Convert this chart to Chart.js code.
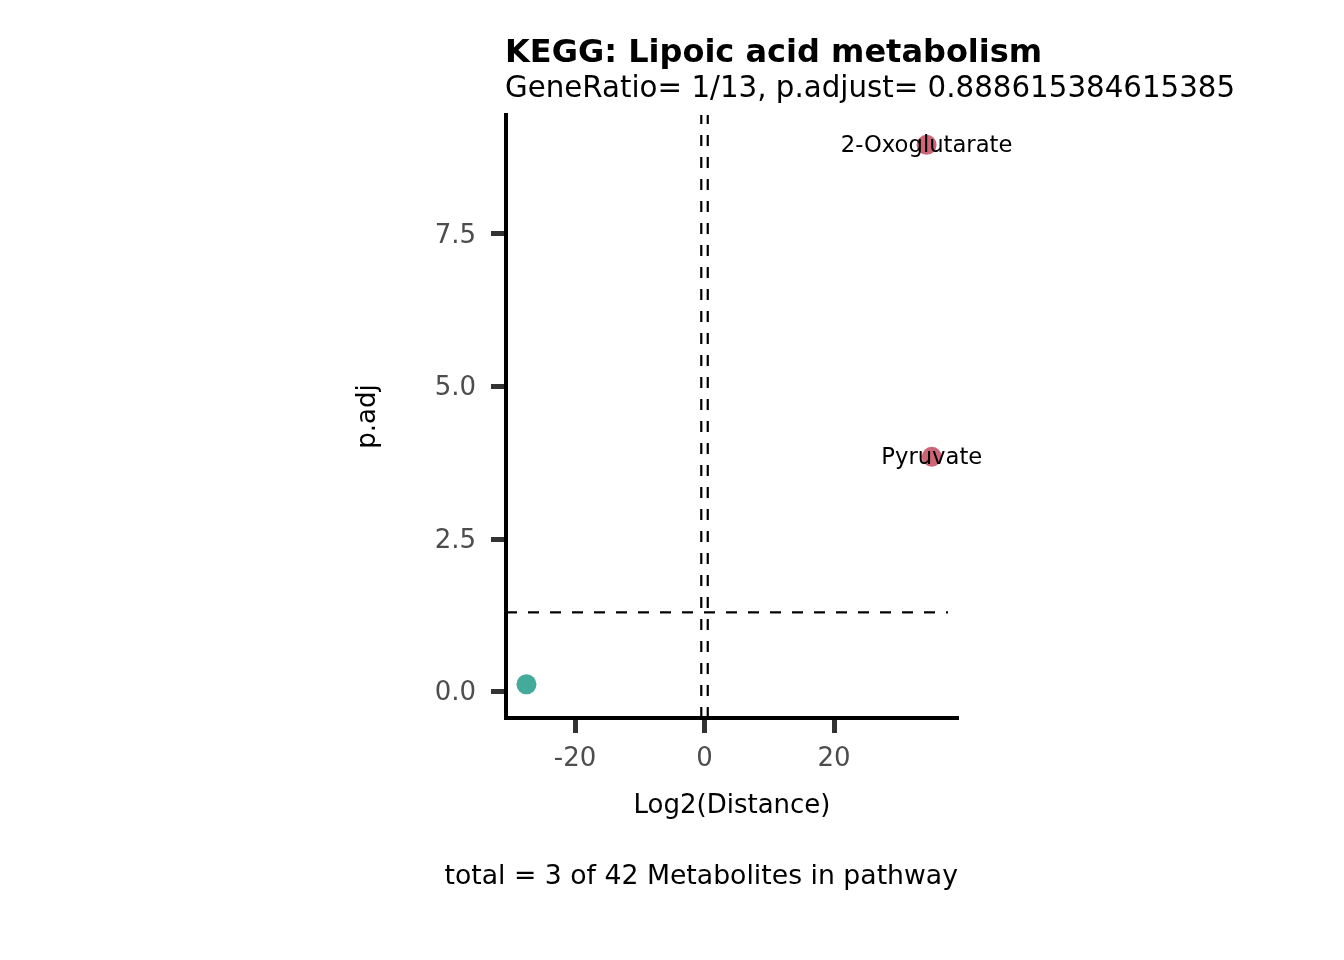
<!DOCTYPE html>
<html>
<head>
<meta charset="utf-8">
<script src="https://cdn.jsdelivr.net/npm/chart.js@4.4.1/dist/chart.umd.min.js"></script>
<style>
  html, body { margin: 0; padding: 0; background: #ffffff; }
  #wrap { width: 1344px; height: 960px; }
</style>
</head>
<body>
<div id="wrap"><canvas id="c" width="1344" height="960"></canvas></div>
<script>
// ---- data ----
const titleText = 'KEGG: Lipoic acid metabolism';
const subtitleText = 'GeneRatio= 1/13, p.adjust= 0.888615384615385';
const captionText = 'total = 3 of 42 Metabolites in pathway';
const xAxisTitle = 'Log2(Distance)';
const yAxisTitle = 'p.adj';

const upNames = ['2-Oxoglutarate', 'Pyruvate'];
const upX = [34.3, 35.1];
const upY = [8.96, 3.85];

const nsX = [-27.5];
const nsY = [0.12];

const xTicks = [-20, 0, 20];
const yTicks = [0, 2.5, 5, 7.5];

const xThresholds = [-0.5, 0.5];
const yThreshold = 1.3;
const hlineXEnd = 37.6;

const xLimits = [-30.66, 39.15];
const yLimits = [-0.431, 9.449];

// ---- build datasets ----
const FONT = "'DejaVu Sans', 'Liberation Sans', sans-serif";
Chart.defaults.font.family = FONT;

const dash = [11, 11];
const datasets = [];
xThresholds.forEach(v => {
  datasets.push({
    type: 'line',
    data: [{x: v, y: yLimits[0]}, {x: v, y: yLimits[1]}],
    borderColor: '#000000', borderWidth: 2.2, borderDash: dash,
    pointRadius: 0, fill: false, tension: 0, order: 3, clip: false
  });
});
datasets.push({
  type: 'line',
  data: [{x: xLimits[0], y: yThreshold}, {x: hlineXEnd, y: yThreshold}],
  borderColor: '#000000', borderWidth: 2.2, borderDash: dash,
  pointRadius: 0, fill: false, tension: 0, order: 3, clip: false
});
datasets.push({
  type: 'scatter',
  data: nsX.map((x, i) => ({x: x, y: nsY[i]})),
  backgroundColor: '#44AA99', borderColor: '#44AA99', borderWidth: 0,
  pointRadius: 10, pointHoverRadius: 10, order: 1
});
datasets.push({
  type: 'scatter',
  data: upX.map((x, i) => ({x: x, y: upY[i], name: upNames[i]})),
  backgroundColor: '#CC6677', borderColor: '#CC6677', borderWidth: 0,
  pointRadius: 10, pointHoverRadius: 10, order: 1
});

// ---- plugins ----
const textPlugin = {
  id: 'texts',
  beforeDraw(chart) {
    const ctx = chart.ctx;
    ctx.save();
    ctx.fillStyle = '#ffffff';
    ctx.fillRect(0, 0, chart.width, chart.height);
    ctx.restore();
  },
  afterDraw(chart) {
    const ctx = chart.ctx;
    const area = chart.chartArea;
    ctx.save();
    ctx.fillStyle = '#000000';
    ctx.textBaseline = 'alphabetic';
    ctx.textAlign = 'left';
    ctx.font = 'bold 32px ' + FONT;
    ctx.fillText(titleText, area.left - 1, 62);
    ctx.font = '29.3px ' + FONT;
    ctx.fillText(subtitleText, area.left - 1, 97);
    ctx.textAlign = 'right';
    ctx.font = '26.7px ' + FONT;
    ctx.fillText(captionText, area.right, 884);
    ctx.restore();
  },
  afterDatasetsDraw(chart) {
    const ctx = chart.ctx;
    const xs = chart.scales.x, ys = chart.scales.y;
    ctx.save();
    ctx.fillStyle = '#000000';
    ctx.font = '22.7px ' + FONT;
    ctx.textAlign = 'center';
    ctx.textBaseline = 'middle';
    upNames.forEach((n, i) => {
      ctx.fillText(n, xs.getPixelForValue(upX[i]), ys.getPixelForValue(upY[i]) + 1.5);
    });
    ctx.restore();
  }
};

new Chart(document.getElementById('c'), {
  data: { datasets: datasets },
  options: {
    responsive: false,
    animation: false,
    devicePixelRatio: 1,
    layout: { padding: { left: 306, top: 115, right: 386, bottom: 0 } },
    plugins: { legend: { display: false }, tooltip: { enabled: false }, title: { display: false } },
    scales: {
      x: {
        type: 'linear', position: 'bottom',
        min: xLimits[0], max: xLimits[1],
        afterFit(scale) { scale.height = 242; },
        afterBuildTicks(scale) { scale.ticks = xTicks.map(v => ({value: v})); },
        border: { display: true, color: '#000000', width: 4 },
        grid: { drawOnChartArea: false, drawTicks: true, tickLength: 15, tickWidth: 5, tickColor: '#333333' },
        ticks: { color: '#4D4D4D', font: { size: 26 }, padding: 11, callback: v => String(v) },
        title: { display: true, text: xAxisTitle, color: '#000000', font: { size: 26 }, padding: { top: 0, bottom: 138.4 } }
      },
      y: {
        type: 'linear', position: 'left',
        min: yLimits[0], max: yLimits[1],
        afterFit(scale) { scale.width = 200; },
        afterBuildTicks(scale) { scale.ticks = yTicks.map(v => ({value: v})); },
        border: { display: true, color: '#000000', width: 4 },
        grid: { drawOnChartArea: false, drawTicks: true, tickLength: 15, tickWidth: 5, tickColor: '#333333' },
        ticks: { color: '#4D4D4D', font: { size: 26 }, padding: 15, labelOffset: 2, callback: v => Number(v).toFixed(1) },
        title: { display: true, text: yAxisTitle, color: '#000000', font: { size: 26 }, padding: { top: 46.4, bottom: 0 } }
      }
    }
  },
  plugins: [textPlugin]
});
</script>
</body>
</html>
